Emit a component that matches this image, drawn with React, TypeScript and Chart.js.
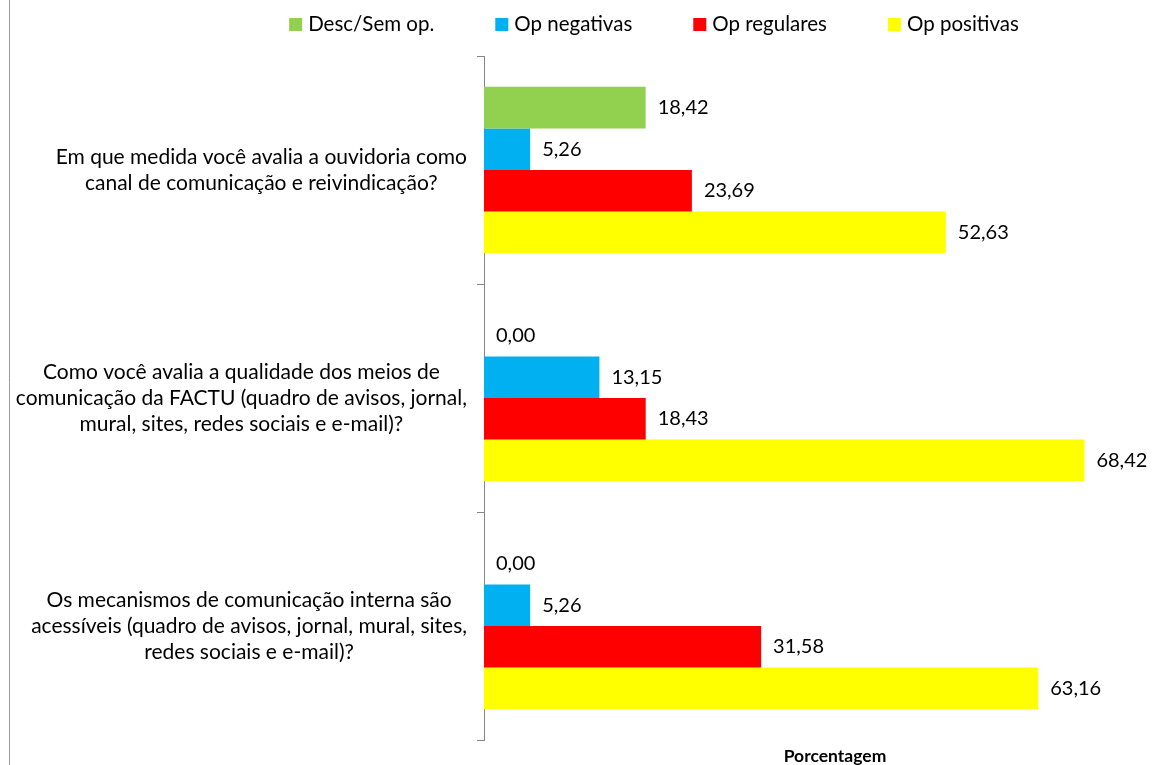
import React, { useEffect, useRef } from "react";
import { Chart, registerables } from "chart.js";

Chart.register(...registerables);

const categories: string[][] = [
  ["Em que medida você avalia a ouvidoria como", "canal de comunicação e reivindicação?"],
  [
    "Como você avalia a qualidade dos meios de",
    "comunicação da FACTU (quadro de avisos, jornal,",
    "mural, sites, redes sociais e e-mail)?",
  ],
  [
    "Os mecanismos de comunicação interna são",
    "acessíveis (quadro de avisos, jornal, mural, sites,",
    "redes sociais e e-mail)?",
  ],
];

const seriesLabels = ["Desc/Sem op.", "Op negativas", "Op regulares", "Op positivas"];
const descSemOp = [18.42, 0.0, 0.0];
const opNegativas = [5.26, 13.15, 5.26];
const opRegulares = [23.69, 18.43, 31.58];
const opPositivas = [52.63, 68.42, 63.16];
const seriesColors = ["#92D050", "#00B0F0", "#FF0000", "#FFFF00"];
const axisTitle = "Porcentagem";
const xMax = 80;

const FONT = "Lato";

const fmt = (v: number) => v.toFixed(2).replace(".", ",");

const customPlugin = {
  id: "customDraw",
  beforeDraw(chart: any) {
    const ctx = chart.ctx;
    ctx.save();
    ctx.fillStyle = "#ffffff";
    ctx.fillRect(0, 0, chart.width, chart.height);
    ctx.strokeStyle = "#9a9a9a";
    ctx.lineWidth = 1;
    ctx.beginPath();
    ctx.moveTo(9.5, 0);
    ctx.lineTo(9.5, chart.height);
    ctx.stroke();
    ctx.restore();
  },
  afterDraw(chart: any) {
    const ctx = chart.ctx;
    const area = chart.chartArea;
    const yScale = chart.scales.y;
    ctx.save();
    ctx.fillStyle = "#000000";
    ctx.font = `21px ${FONT}`;
    ctx.textBaseline = "middle";
    ctx.textAlign = "center";
    const lineH = 26;
    const rightEdge = area.left - 17;
    categories.forEach((lines, i) => {
      const cy = yScale.getPixelForValue(i);
      const widest = Math.max(...lines.map((l) => ctx.measureText(l).width));
      const cx = rightEdge - widest / 2;
      const top = cy - ((lines.length - 1) * lineH) / 2;
      lines.forEach((l, j) => ctx.fillText(l, cx, top + j * lineH));
    });
    ctx.font = `20px ${FONT}`;
    ctx.textAlign = "left";
    chart.data.datasets.forEach((ds: any, di: number) => {
      const meta = chart.getDatasetMeta(di);
      meta.data.forEach((el: any, i: number) => {
        ctx.fillText(fmt(ds.data[i]), el.x + 12, el.y);
      });
    });
    ctx.font = `20.5px ${FONT}`;
    const box = 13;
    const gap = 6;
    const spacing = 61;
    const widths = seriesLabels.map((l) => box + gap + ctx.measureText(l).width);
    const total = widths.reduce((a, b) => a + b, 0) + spacing * (widths.length - 1);
    let x = chart.width / 2 - total / 2;
    const ly = 24.5;
    seriesLabels.forEach((l, i) => {
      ctx.fillStyle = seriesColors[i];
      ctx.fillRect(x, ly - box / 2, box, box);
      ctx.fillStyle = "#000000";
      ctx.fillText(l, x + box + gap, ly);
      x += widths[i] + spacing;
    });
    ctx.font = `bold 17.5px ${FONT}`;
    ctx.textAlign = "center";
    ctx.fillText(axisTitle, (area.left + area.right) / 2, 756);
    ctx.restore();
  },
};

export default function App() {
  const canvasRef = useRef<HTMLCanvasElement | null>(null);

  useEffect(() => {
    if (!canvasRef.current) return;
    const data = [descSemOp, opNegativas, opRegulares, opPositivas];
    const chart = new Chart(canvasRef.current, {
      type: "bar",
      data: {
        labels: categories,
        datasets: seriesLabels.map((label, i) => ({
          label,
          data: data[i],
          backgroundColor: seriesColors[i],
          borderWidth: 0,
          categoryPercentage: 0.73,
          barPercentage: 1.0,
        })),
      },
      options: {
        indexAxis: "y",
        animation: false,
        responsive: false,
        devicePixelRatio: 1,
        layout: { padding: { top: 56, bottom: 25, left: 0, right: 122 } },
        plugins: {
          legend: { display: false },
          tooltip: { enabled: false },
          title: { display: false },
        },
        scales: {
          x: {
            display: false,
            min: 0,
            max: xMax,
          },
          y: {
            display: true,
            grid: {
              display: true,
              drawOnChartArea: false,
              drawTicks: true,
              tickLength: 7,
              color: "#868686",
              offset: true,
            },
            border: { display: true, color: "#868686", width: 1 },
            ticks: { display: false },
            afterFit: (scale: any) => {
              scale.width = 484;
            },
          },
        },
      },
      plugins: [customPlugin],
    } as any);
    return () => chart.destroy();
  }, []);

  return (
    <div
      style={{
        position: "fixed",
        left: 0,
        top: 0,
        width: 1158,
        height: 765,
        overflow: "hidden",
        background: "#fff",
      }}
    >
      <canvas ref={canvasRef} width={1308} height={765} style={{ display: "block" }} />
    </div>
  );
}
